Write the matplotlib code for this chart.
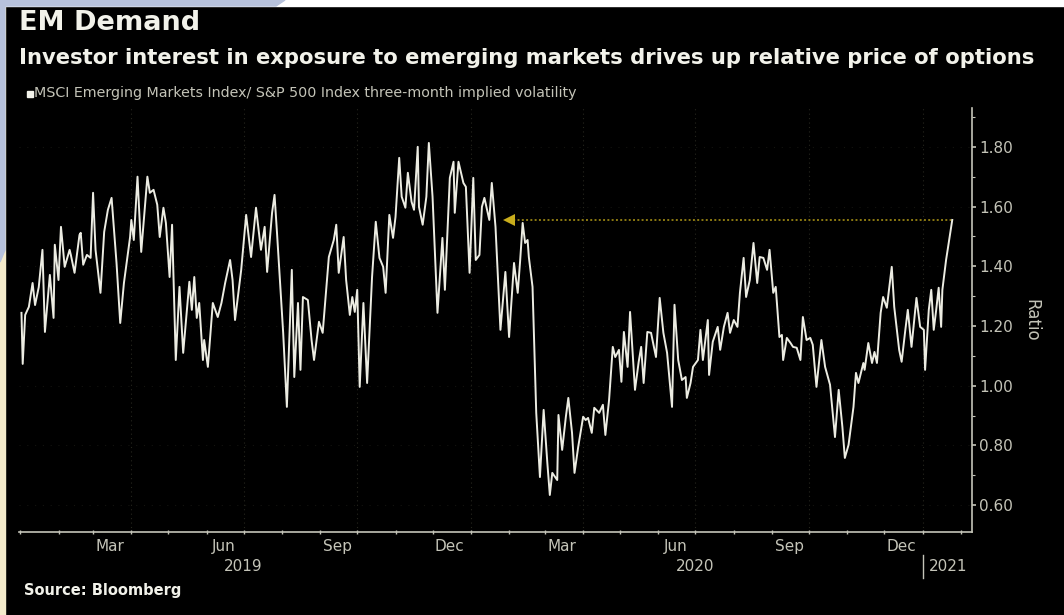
import numpy as np
import pandas as pd
import matplotlib
matplotlib.use("Agg")
import matplotlib.pyplot as plt
import matplotlib.dates as mdates
from matplotlib.patches import Rectangle, Polygon
from matplotlib.ticker import MultipleLocator, FormatStrFormatter

#### data: MSCI EM / S&P 500 three-month implied vol ratio
start = pd.Timestamp('2019-01-01')

# days since 2019-01-01
days = [1, 2, 4, 7, 10, 12, 15, 18, 20, 24, 27, 28, 31, 33, 36, 40, 41, 44, 48, 49,
        51, 54, 57, 59, 61, 65, 68, 71, 74, 76, 78, 81, 84, 89, 90, 92, 95, 98, 103, 105,
        108, 111, 113, 116, 118, 121, 123, 126, 129,
        132, 137, 139, 141, 143, 145, 148, 149, 152, 156, 160, 163, 166, 170, 172, 174, 179, 183, 187, 191,
        195, 198, 200, 204, 206, 208, 213, 216, 220, 222, 225, 227, 229, 233, 236, 238, 242, 245, 250, 254, 256,
        258, 262, 264, 267, 269, 271, 273, 275, 278, 281, 285, 288, 291, 294, 296, 299, 302, 304, 307, 309,
        312, 314, 317, 319, 322, 323, 326, 329, 331, 334, 338, 342, 344, 348, 351, 352, 355, 359, 361, 364,
        367, 369, 372, 374, 376, 380, 382, 385, 389, 393,
        396, 400, 403, 405, 407, 409, 411, 412, 415, 418, 421, 424, 427, 429, 431, 435, 436, 439, 442, 444,
        447, 449, 452, 456, 458, 460, 463, 465, 469, 472, 474, 477, 480, 482, 485, 487, 489, 492, 494, 498,
        501, 503, 505, 508, 511,
        515, 518, 521, 524, 528, 530, 533, 536, 539, 540, 543, 545, 549, 551, 553, 557, 558, 561, 565, 567,
        570, 573, 575, 578, 581, 583, 586, 588, 591, 594, 597, 599, 602, 605, 607, 610, 612, 615, 617, 618,
        621, 624, 626, 629, 632, 634, 637,
        640, 642, 645, 647, 649, 652, 656, 660, 663, 666, 668, 671, 675, 677, 679, 683, 684, 687, 690, 692,
        694, 697, 699, 702, 706, 708, 712, 714, 717, 719, 722, 726, 729, 732, 733, 736, 738, 740, 742, 744,
        746, 747, 750, 755]

ratio = [1.244, 1.073, 1.237, 1.264, 1.344, 1.27, 1.33, 1.455, 1.18, 1.371, 1.227, 1.472, 1.354, 1.532, 1.398, 1.455, 1.438, 1.378, 1.505, 1.512,
         1.405, 1.438, 1.428, 1.646, 1.455, 1.311, 1.515, 1.589, 1.629, 1.522, 1.411, 1.21, 1.344, 1.498, 1.555, 1.488, 1.70, 1.448, 1.70, 1.646,
         1.656, 1.606, 1.498, 1.596, 1.545, 1.364, 1.539, 1.086, 1.331,
         1.11, 1.348, 1.254, 1.364, 1.227, 1.277, 1.086, 1.153, 1.063, 1.277, 1.23, 1.277, 1.344, 1.421, 1.354, 1.22, 1.388, 1.572, 1.431, 1.596,
         1.455, 1.532, 1.381, 1.579, 1.639, 1.512, 1.177, 0.929, 1.388, 1.029, 1.277, 1.053, 1.297, 1.287, 1.153, 1.086, 1.214, 1.177, 1.431, 1.488, 1.539,
         1.378, 1.498, 1.354, 1.237, 1.297, 1.247, 1.321, 0.996, 1.277, 1.009, 1.364, 1.549, 1.428, 1.398, 1.311, 1.572, 1.495, 1.565, 1.763, 1.633,
         1.596, 1.713, 1.616, 1.589, 1.80, 1.599, 1.539, 1.633, 1.813, 1.633, 1.244, 1.495, 1.321, 1.696, 1.75, 1.579, 1.75, 1.679, 1.666, 1.378,
         1.696, 1.421, 1.438, 1.599, 1.629, 1.555, 1.679, 1.532, 1.187, 1.381,
         1.163, 1.411, 1.311, 1.421, 1.545, 1.478, 1.488, 1.431, 1.331, 0.909, 0.694, 0.919, 0.741, 0.634, 0.708, 0.684, 0.902, 0.785, 0.896, 0.959,
         0.842, 0.708, 0.795, 0.896, 0.885, 0.892, 0.842, 0.926, 0.909, 0.936, 0.835, 0.952, 1.13, 1.096, 1.12, 1.013, 1.18, 1.063, 1.247, 0.986,
         1.08, 1.13, 1.009, 1.18, 1.177,
         1.096, 1.294, 1.177, 1.11, 0.929, 1.271, 1.086, 1.019, 1.029, 0.959, 1.009, 1.063, 1.086, 1.187, 1.086, 1.22, 1.036, 1.147, 1.197, 1.12,
         1.197, 1.244, 1.177, 1.22, 1.197, 1.311, 1.428, 1.297, 1.354, 1.478, 1.344, 1.431, 1.428, 1.388, 1.455, 1.311, 1.331, 1.163, 1.17, 1.086,
         1.16, 1.143, 1.13, 1.127, 1.086, 1.23, 1.153,
         1.16, 1.137, 0.996, 1.076, 1.153, 1.063, 1.003, 0.828, 0.986, 0.862, 0.758, 0.802, 0.929, 1.043, 1.009, 1.076, 1.053, 1.143, 1.076, 1.113,
         1.076, 1.244, 1.297, 1.261, 1.398, 1.264, 1.12, 1.08, 1.187, 1.254, 1.13, 1.294, 1.197, 1.187, 1.053, 1.254, 1.321, 1.187, 1.254, 1.328,
         1.197, 1.321, 1.421, 1.555]

ref_from = pd.Timestamp('2020-02-01')   # last time the ratio was this high

month_names = ['Mar', 'Jun', 'Sep', 'Dec']
years = ['2019', '2020', '2021']

dates = start + pd.to_timedelta(days, unit='D')

#### colours
bg = '#000000'
fg = '#f2f2ea'
axc = '#c4c4b8'
line_c = '#ecece2'
gold = '#8c7a12'

fig = plt.figure(figsize=(10.64, 6.15), dpi=100, facecolor=bg)

# border strips round the panel
W, H = 1064, 615
def px(x, y):
    return (x / W, 1 - y / H)
fig.patches.append(Rectangle(px(0, 6), 1, 6 / H, transform=fig.transFigure, color='#ffffff', zorder=0))
fig.patches.append(Polygon([px(0, 0), px(285, 0), px(276, 6), px(0, 6)], closed=True,
                           transform=fig.transFigure, color='#b7c2dc', zorder=1))
fig.patches.append(Rectangle(px(0, 615), 5 / W, 615 / H, transform=fig.transFigure, color='#f4ebcb', zorder=0))
fig.patches.append(Polygon([px(0, 0), px(5, 0), px(5, 250), px(0, 262)], closed=True,
                           transform=fig.transFigure, color='#b7c2dc', zorder=1))

ax = fig.add_axes([19 / W, 1 - 532 / H, (972 - 19) / W, (532 - 108) / H])
ax.set_facecolor(bg)

ax.plot(dates, ratio, color=line_c, lw=1.4, zorder=3)

# dotted reference line back to the previous high
ax.plot([ref_from, dates[-1]], [ratio[-1], ratio[-1]], color=gold, lw=1.4,
        linestyle=(0, (1, 1.2)), zorder=2)
ax.plot([ref_from], [ratio[-1]], marker='<', color='#c9ad1c', markersize=8,
        markeredgewidth=0, zorder=4)

ax.set_xlim(start - pd.Timedelta(days=1), pd.Timestamp('2021-02-10'))
ax.set_ylim(0.51, 1.93)

# axes style
for s in ['left', 'top']:
    ax.spines[s].set_visible(False)
for s in ['right', 'bottom']:
    ax.spines[s].set_color(axc)
    ax.spines[s].set_linewidth(1.2)

ax.yaxis.tick_right()
ax.yaxis.set_label_position('right')
ax.yaxis.set_major_locator(MultipleLocator(0.2))
ax.yaxis.set_minor_locator(MultipleLocator(0.1))
ax.yaxis.set_major_formatter(FormatStrFormatter('%.2f'))
ax.tick_params(axis='y', which='major', colors=axc, labelsize=11, length=3, width=1.2, pad=2)
ax.tick_params(axis='y', which='minor', colors=axc, length=2, width=0.8)
ax.set_ylabel('Ratio', color=axc, fontsize=12, rotation=270, labelpad=20)

# month ticks on the spine, month names centred in the month
ax.xaxis.set_major_locator(mdates.MonthLocator())
ax.xaxis.set_major_formatter(plt.NullFormatter())
ax.tick_params(axis='x', which='major', colors=axc, length=3, width=1.0, direction='inout')
mid = [pd.Timestamp(f'{y}-{m:02d}-15') for y in (2019, 2020) for m in (3, 6, 9, 12)]
ax.set_xticks(mid, minor=True)
ax.set_xticklabels(month_names * 2, minor=True)
ax.tick_params(axis='x', which='minor', length=0, colors=axc, labelsize=11, pad=5)

# very faint dotted grid at quarter starts and y ticks
qs = pd.date_range('2019-04-01', '2021-01-01', freq='QS')
for q in qs:
    ax.axvline(q, color='#26261e', lw=0.8, linestyle=(0, (1, 3)), zorder=1)
for yv in np.arange(0.6, 1.81, 0.2):
    ax.axhline(yv, color='#141410', lw=0.8, linestyle=(0, (1, 6)), zorder=1)

# year labels
trans = ax.get_xaxis_transform()
ax.text(pd.Timestamp('2019-07-01'), -0.082, years[0], transform=trans, ha='center', va='center',
        color=axc, fontsize=11)
ax.text(pd.Timestamp('2020-07-01'), -0.082, years[1], transform=trans, ha='center', va='center',
        color=axc, fontsize=11)
ax.text(pd.Timestamp('2021-01-06'), -0.082, years[2], transform=trans, ha='left', va='center',
        color=axc, fontsize=11)
ax.plot([pd.Timestamp('2021-01-01')] * 2, [-0.055, -0.108], transform=trans, color=axc,
        lw=1.0, clip_on=False)

# titles
fig.text(19 / W, 1 - 23 / H, 'EM Demand', color=fg, fontsize=19.5, fontweight='bold', va='center')
fig.text(19 / W, 1 - 58 / H,
         'Investor interest in exposure to emerging markets drives up relative price of options',
         color=fg, fontsize=15.2, fontweight='bold', va='center')
fig.patches.append(Rectangle(px(27, 97), 6 / W, 6 / H, transform=fig.transFigure, color=fg))
fig.text(34 / W, 1 - 93 / H, 'MSCI Emerging Markets Index/ S&P 500 Index three-month implied volatility',
         color=axc, fontsize=10.3, va='center')
fig.text(24 / W, 1 - 590 / H, 'Source: Bloomberg', color=fg, fontsize=10.5, fontweight='bold', va='center')

fig.savefig('out.png', dpi=100, facecolor=bg)
